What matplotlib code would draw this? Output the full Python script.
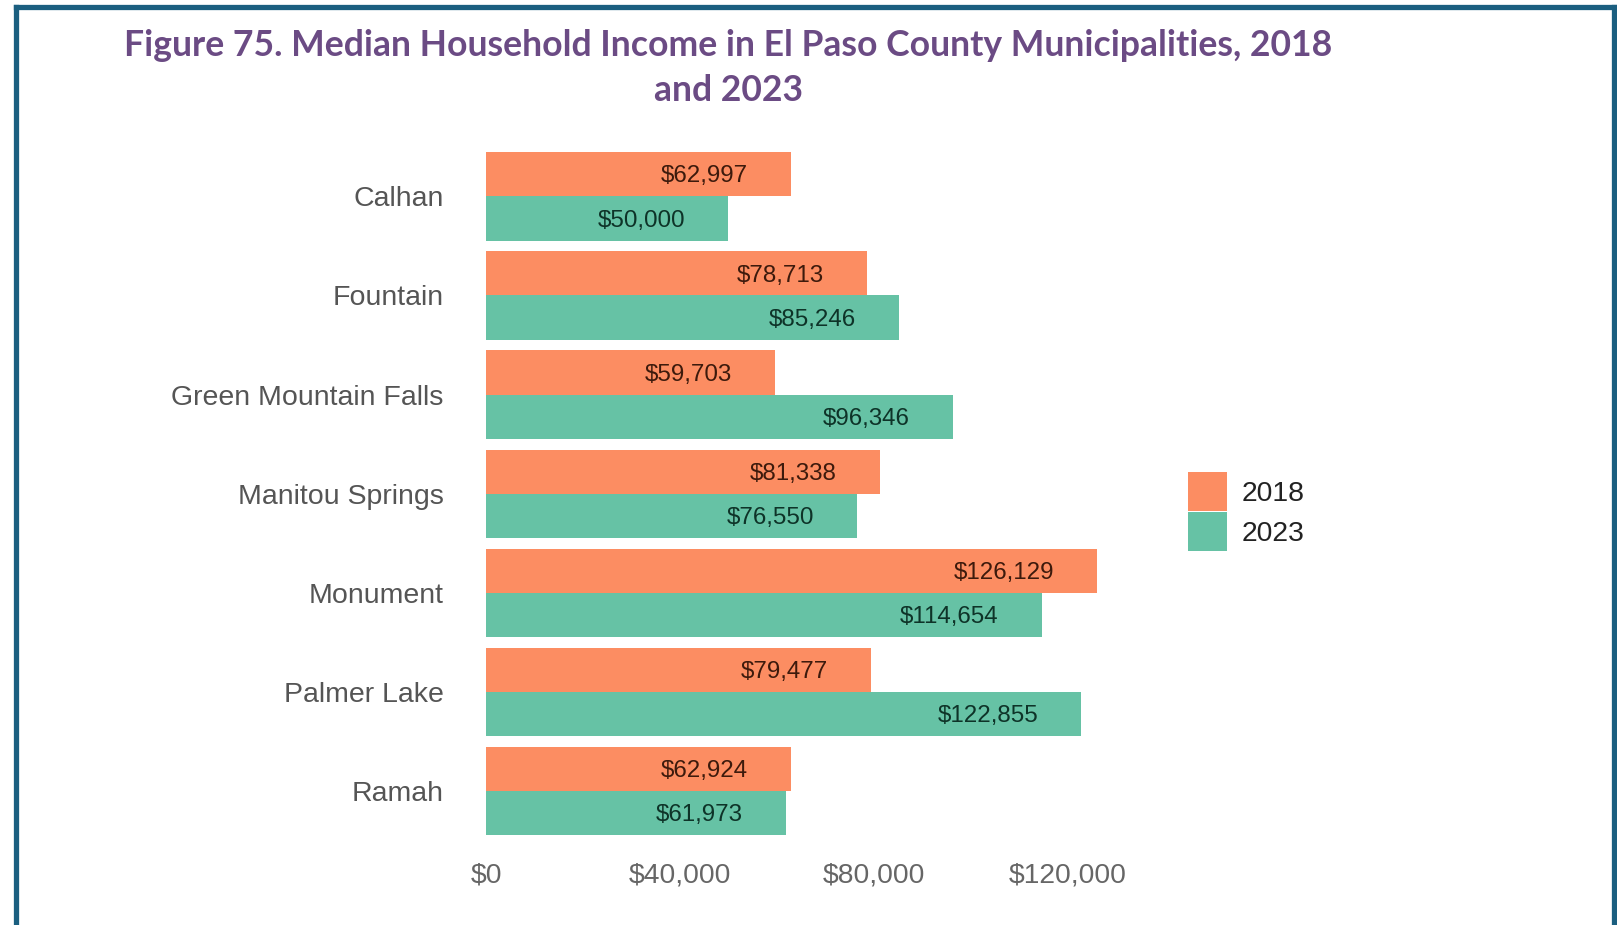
import matplotlib
matplotlib.use("Agg")
import matplotlib.pyplot as plt
from matplotlib.patches import Patch
from matplotlib.lines import Line2D
import numpy as np

categories = ["Calhan", "Fountain", "Green Mountain Falls", "Manitou Springs",
              "Monument", "Palmer Lake", "Ramah"]
income_2018 = [62997, 78713, 59703, 81338, 126129, 79477, 62924]
income_2023 = [50000, 85246, 96346, 76550, 114654, 122855, 61973]
series_labels = ["2018", "2023"]
xticks = [0, 40000, 80000, 120000]
xtick_labels = ["$0", "$40,000", "$80,000", "$120,000"]
title = "Figure 75. Median Household Income in El Paso County Municipalities, 2018\nand 2023"

c18 = "#fc8d62"
c23 = "#66c2a5"
lab18 = "#3d1a0c"
lab23 = "#0e3328"

W, H = 1617, 925
fig = plt.figure(figsize=(W / 100, H / 100), dpi=100)
fig.patch.set_facecolor("white")

ax_left = 486 / W
ax_w = 639.6 / W
ax_bottom = 1 - 840.3 / H
ax_top = 1 - 146.9 / H
ax = fig.add_axes([ax_left, ax_bottom, ax_w, ax_top - ax_bottom])

y = np.arange(len(categories))
h = 0.445
ax.barh(y - h / 2, income_2018, height=h, color=c18, edgecolor="none")
ax.barh(y + h / 2, income_2023, height=h, color=c23, edgecolor="none")

for yi, v in zip(y, income_2018):
    ax.annotate(f"${v:,}", xy=(v, yi - h / 2), xytext=(-31, -1.5), textcoords="offset points",
                ha="right", va="center", fontsize=17.4, color=lab18, family="Liberation Sans")
for yi, v in zip(y, income_2023):
    ax.annotate(f"${v:,}", xy=(v, yi + h / 2), xytext=(-31, -1.5), textcoords="offset points",
                ha="right", va="center", fontsize=17.4, color=lab23, family="Liberation Sans")

ax.set_xlim(0, 132000)
ax.set_ylim(len(categories) - 0.5, -0.5)
ax.set_yticks(y)
ax.set_yticklabels(categories, fontsize=20.5, color="#555555", family="Liberation Sans")
ax.set_xticks(xticks)
ax.set_xticklabels(xtick_labels, fontsize=20.3, color="#666666", family="Liberation Sans")
ax.tick_params(axis="y", length=0, pad=30.5)
ax.tick_params(axis="x", length=0, pad=15.8)
for s in ax.spines.values():
    s.set_visible(False)
ax.set_facecolor("white")

handles = [Patch(facecolor=c18, edgecolor="none"), Patch(facecolor=c23, edgecolor="none")]
fig.legend(handles, series_labels, loc="upper left", bbox_to_anchor=(1188 / W, 1 - 472 / H),
           frameon=False, borderpad=0, borderaxespad=0, handlelength=1.38, handleheight=1.74,
           labelspacing=0.04, handletextpad=0.51,
           prop={"family": "Liberation Sans", "size": 20.4}, labelcolor="#222222")

fig.text(728 / W, 1 - 29 / H, title, ha="center", va="top", multialignment="center",
         fontsize=25.6, fontweight="bold", family="Lato", color="#6b4b84", linespacing=1.45)

# border frame
bc = "#1b5f80"
lw = 3.8
fig.add_artist(Line2D([15.5 / W, 15.5 / W], [-0.05, 1 - 7 / H], transform=fig.transFigure,
                      color=bc, lw=lw, solid_capstyle="projecting"))
fig.add_artist(Line2D([15.5 / W, 1613.5 / W], [1 - 7 / H, 1 - 7 / H], transform=fig.transFigure,
                      color=bc, lw=lw, solid_capstyle="projecting"))
fig.add_artist(Line2D([1613.5 / W, 1613.5 / W], [-0.05, 1 - 7 / H], transform=fig.transFigure,
                      color=bc, lw=lw, solid_capstyle="projecting"))

fig.savefig("out.png", dpi=100)
